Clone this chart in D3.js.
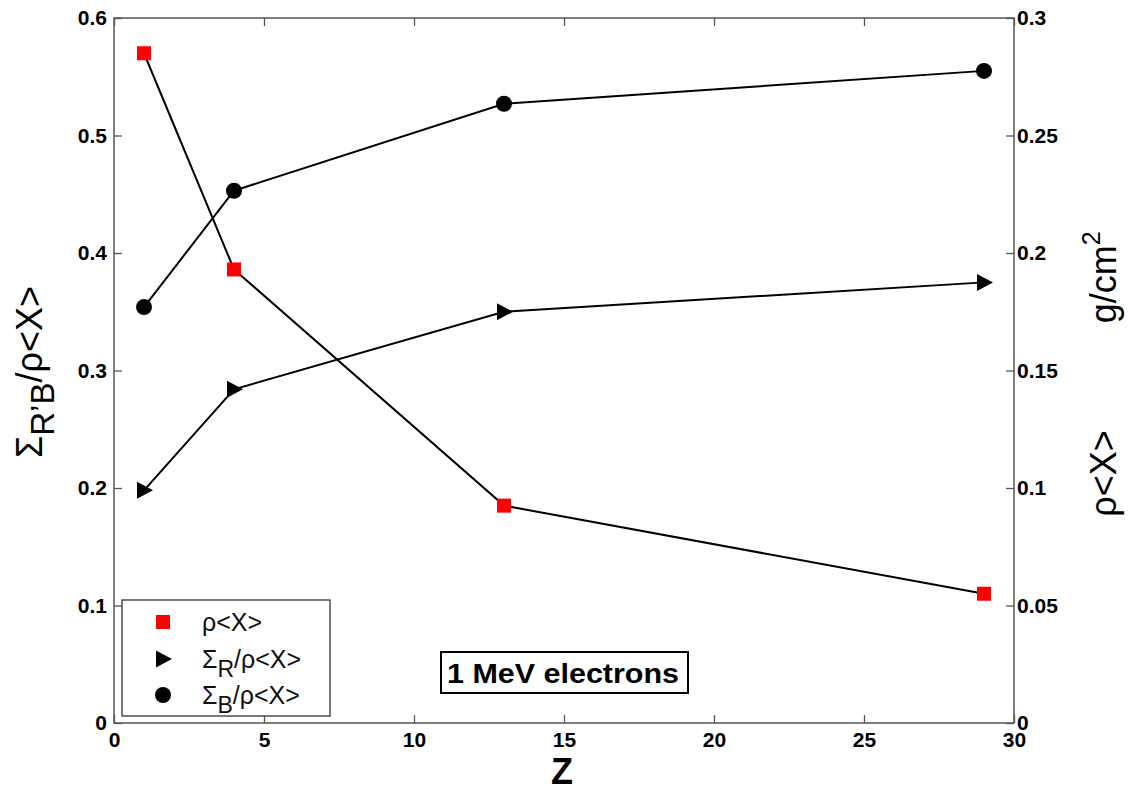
<!DOCTYPE html>
<html>
<head>
<meta charset="utf-8">
<script src="https://cdn.jsdelivr.net/npm/d3@7"></script>
<style>
  html, body { margin: 0; padding: 0; background: #fff; }
  svg { display: block; font-family: Arial, "Liberation Sans", sans-serif; }
  .tick text { font-weight: bold; font-size: 21px; fill: #000; }
</style>
</head>
<body>
<svg id="chart" width="1128" height="792"></svg>
<script>
// Atomic number of the absorber
const zValues = [1, 4, 13, 29];
// Mean penetration depth rho<X> (g/cm^2), right axis
const rhoX = [0.285, 0.193, 0.0925, 0.055];
// Sigma_R / rho<X>, left axis
const sigmaR = [0.198, 0.284, 0.350, 0.375];
// Sigma_B / rho<X>, left axis
const sigmaB = [0.354, 0.453, 0.527, 0.555];

const xTicks = [0, 5, 10, 15, 20, 25, 30];
const yLeftTicks = [0, 0.1, 0.2, 0.3, 0.4, 0.5, 0.6];
const yRightTicks = [0, 0.05, 0.1, 0.15, 0.2, 0.25, 0.3];

const svg = d3.select("#chart");
const m = { left: 114, right: 1014, top: 18, bottom: 723 };

const x = d3.scaleLinear().domain([0, 30]).range([m.left, m.right]);
const yL = d3.scaleLinear().domain([0, 0.6]).range([m.bottom, m.top]);
const yR = d3.scaleLinear().domain([0, 0.3]).range([m.bottom, m.top]);

const axisColor = "#555";

// frame
svg.append("rect")
  .attr("x", m.left).attr("y", m.top)
  .attr("width", m.right - m.left).attr("height", m.bottom - m.top)
  .attr("fill", "none").attr("stroke", axisColor).attr("stroke-width", 1.5);

function styleAxis(g) {
  g.select(".domain").remove();
  g.selectAll(".tick line").attr("stroke", axisColor).attr("stroke-width", 1.3);
}

// bottom axis (ticks pointing inward)
svg.append("g")
  .attr("transform", `translate(0,${m.bottom})`)
  .call(d3.axisBottom(x).tickValues(xTicks).tickFormat(d3.format("d")).tickSizeInner(-8).tickSizeOuter(0).tickPadding(9))
  .call(styleAxis);

// top axis ticks only
svg.append("g")
  .attr("transform", `translate(0,${m.top})`)
  .call(d3.axisTop(x).tickValues(xTicks).tickFormat("").tickSizeInner(-8).tickSizeOuter(0))
  .call(styleAxis);

// left axis
svg.append("g")
  .attr("transform", `translate(${m.left},0)`)
  .call(d3.axisLeft(yL).tickValues(yLeftTicks).tickFormat(d => d === 0 ? "0" : d3.format(".1f")(d)).tickSizeInner(-8).tickSizeOuter(0).tickPadding(7))
  .call(styleAxis);

// right axis
svg.append("g")
  .attr("transform", `translate(${m.right},0)`)
  .call(d3.axisRight(yR).tickValues(yRightTicks).tickFormat(d => d === 0 ? "0" : String(+d.toFixed(2))).tickSizeInner(-8).tickSizeOuter(0).tickPadding(3))
  .call(styleAxis);

// series
const series = [
  { vals: sigmaB, y: yL, shape: "circle", fill: "#000" },
  { vals: sigmaR, y: yL, shape: "triangle", fill: "#000" },
  { vals: rhoX, y: yR, shape: "square", fill: "#ff0000" }
];

const line = (ys) => d3.line().x((d, i) => x(zValues[i])).y(d => ys(d));

function drawMarker(g, shape, cx, cy, fill) {
  if (shape === "square") {
    g.append("rect").attr("x", cx - 7).attr("y", cy - 7).attr("width", 14).attr("height", 14).attr("fill", fill);
  } else if (shape === "triangle") {
    g.append("path").attr("d", `M${cx - 7},${cy - 8.5}L${cx + 9},${cy}L${cx - 7},${cy + 8.5}Z`).attr("fill", fill);
  } else {
    g.append("circle").attr("cx", cx).attr("cy", cy).attr("r", 8).attr("fill", fill);
  }
}

series.forEach(s => {
  svg.append("path").datum(s.vals)
    .attr("d", line(s.y))
    .attr("fill", "none").attr("stroke", "#000").attr("stroke-width", 2);
});
series.forEach(s => {
  const g = svg.append("g");
  s.vals.forEach((v, i) => drawMarker(g, s.shape, x(zValues[i]), s.y(v), s.fill));
});

// legend
const leg = svg.append("g");
leg.append("rect").attr("x", 122).attr("y", 600).attr("width", 208).attr("height", 116)
  .attr("fill", "#fff").attr("stroke", "#333").attr("stroke-width", 1.3);
const legendItems = [
  { shape: "square", fill: "#ff0000", y: 622, main: "\u03c1<X>", sub: null },
  { shape: "triangle", fill: "#000", y: 659, main: "\u03a3", sub: "R", rest: "/\u03c1<X>" },
  { shape: "circle", fill: "#000", y: 695, main: "\u03a3", sub: "B", rest: "/\u03c1<X>" }
];
legendItems.forEach(it => {
  drawMarker(leg, it.shape, 163, it.y, it.fill);
  const t = leg.append("text").attr("x", 202).attr("y", it.y + 9).attr("font-size", 25).attr("fill", "#111");
  t.append("tspan").text(it.main);
  if (it.sub) {
    t.append("tspan").attr("dy", 9).attr("font-size", 23).text(it.sub);
    t.append("tspan").attr("dy", -9).text(it.rest);
  }
});

// annotation box
const ann = svg.append("g");
ann.append("rect").attr("x", 441).attr("y", 652).attr("width", 247).attr("height", 41)
  .attr("fill", "#fff").attr("stroke", "#000").attr("stroke-width", 2);
ann.append("text").attr("x", 563).attr("y", 683).attr("text-anchor", "middle")
  .attr("font-size", 27).attr("font-weight", "bold")
  .attr("textLength", 232).attr("lengthAdjust", "spacingAndGlyphs")
  .text("1 MeV electrons");

// x-axis title
svg.append("text").attr("x", 562).attr("y", 784).attr("text-anchor", "middle")
  .attr("font-size", 36).attr("font-weight", "bold").text("Z");

// left title
const lt = svg.append("text")
  .attr("transform", "translate(42,372) rotate(-90)")
  .attr("text-anchor", "middle").attr("font-size", 36).attr("fill", "#000");
lt.append("tspan").text("\u03a3");
lt.append("tspan").attr("dy", 12).attr("font-size", 33).text("R\u2019B");
lt.append("tspan").attr("dy", -12).text("/\u03c1<X>");

// right title
const rt = svg.append("text")
  .attr("transform", "translate(1116,374) rotate(-90)")
  .attr("text-anchor", "middle").attr("font-size", 36).attr("fill", "#000");
rt.append("tspan").text("\u03c1<X>");
rt.append("tspan").attr("dx", 107).text("g/cm");
rt.append("tspan").attr("dy", -16).attr("font-size", 25).text("2");
</script>
</body>
</html>
